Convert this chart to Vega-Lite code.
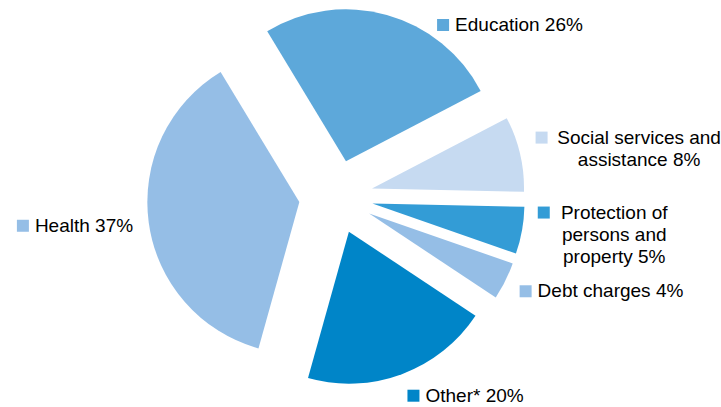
{
  "$schema": "https://vega.github.io/schema/vega-lite/v6.json",
  "width": 672,
  "height": 394,
  "autosize": "none",
  "padding": {"left": 0, "top": 0, "right": 49, "bottom": 13},
  "background": "white",
  "view": {"stroke": null},
  "config": {"font": "Liberation Sans"},
  "data": {
    "values": [
      {"k": 1, "name": "Education", "pct": 26},
      {"k": 2, "name": "Social services and\nassistance", "pct": 8},
      {"k": 3, "name": "Protection of\npersons and\nproperty", "pct": 5},
      {"k": 4, "name": "Debt charges", "pct": 4},
      {"k": 5, "name": "Other*", "pct": 20},
      {"k": 6, "name": "Health", "pct": 37}
    ]
  },
  "transform": [
    {"window": [{"op": "sum", "field": "pct", "as": "cum"}], "sort": [{"field": "k"}], "frame": [null, 0]},
    {"joinaggregate": [{"op": "sum", "field": "pct", "as": "total"}]},
    {"calculate": "-0.5445 + 2*PI*datum.cum/datum.total", "as": "a1"},
    {"calculate": "datum.a1 - 2*PI*datum.pct/datum.total", "as": "a0"},
    {"calculate": "(datum.a0 + datum.a1)/2", "as": "mid"},
    {"calculate": "cos(datum.mid) > 0.87 ? (sin(datum.mid) >= 0 ? acos(0.87) : -acos(0.87)) : datum.mid", "as": "la"},
    {"calculate": "datum.name + ' ' + datum.pct + '%'", "as": "label"},
    {"calculate": "split(datum.label, '\\n')", "as": "lines"},
    {"calculate": "length(datum.lines)", "as": "n"},
    {"calculate": "max(length(datum.lines[0]), datum.n > 1 ? length(datum.lines[1]) : 0, datum.n > 2 ? length(datum.lines[2]) : 0)", "as": "nmax"}
  ],
  "layer": [
    {
      "mark": {
        "type": "arc",
        "radius": 152,
        "x": {"expr": "width/2 + 37*sin(datum.mid)"},
        "y": {"expr": "height/2 - 37*cos(datum.mid)"}
      },
      "encoding": {
        "theta": {"field": "a0", "type": "quantitative", "scale": null, "stack": null},
        "theta2": {"field": "a1"},
        "color": {
          "field": "name",
          "type": "nominal",
          "scale": {
            "domain": ["Education", "Social services and\nassistance", "Protection of\npersons and\nproperty", "Debt charges", "Other*", "Health"],
            "range": ["#5DA8DA", "#C6DAF1", "#339CD6", "#95BEE6", "#0085C8", "#95BEE6"]
          },
          "legend": null
        }
      }
    },
    {
      "mark": {
        "type": "square",
        "size": 144,
        "opacity": 1,
        "filled": true,
        "x": {"expr": "width/2 + 205*sin(datum.la) - (sin(datum.la) >= 0 ? 0 : datum.nmax*9.8 + 18) + 6"},
        "y": {"expr": "max(height/2 - 172, height/2 - 212*cos(datum.la)) - (datum.n - 1)*11"}
      },
      "encoding": {
        "color": {"field": "name", "type": "nominal", "legend": null}
      }
    },
    {
      "mark": {
        "type": "text",
        "fontSize": 19,
        "font": "Liberation Sans",
        "color": "#000000",
        "lineBreak": "\n",
        "lineHeight": 22,
        "baseline": "middle",
        "align": {"expr": "datum.n > 1 ? 'center' : 'left'"},
        "x": {"expr": "width/2 + 205*sin(datum.la) - (sin(datum.la) >= 0 ? 0 : datum.nmax*9.8 + 18) + 18 + (datum.n > 1 ? datum.nmax*4.5 : 0)"},
        "y": {"expr": "max(height/2 - 172, height/2 - 212*cos(datum.la)) - (datum.n - 1)*11"}
      },
      "encoding": {
        "text": {"field": "label", "type": "nominal"}
      }
    }
  ]
}
